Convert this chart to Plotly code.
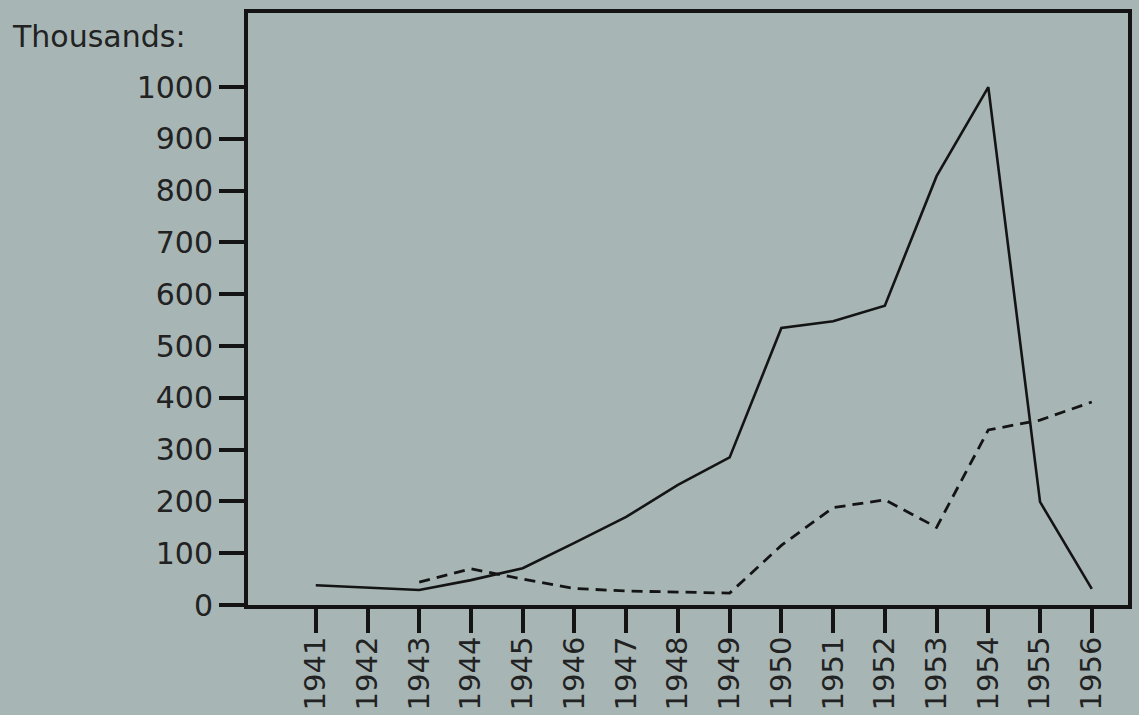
import plotly.graph_objects as go

years = list(range(1941, 1957))
solid_vals = [38, 34, 29, 48, 71, 120, 170, 232, 285, 535, 548, 578, 828, 1000, 199, 31]
dashed_years = list(range(1943, 1957))
dashed_vals = [44, 70, 50, 32, 27, 25, 23, 115, 188, 203, 150, 338, 357, 392]
y_ticks = [0, 100, 200, 300, 400, 500, 600, 700, 800, 900, 1000]
x_tick_labels = [str(y) for y in years]

bg = "#a7b6b5"
ink = "#141414"
txt = "#222222"
font = "DejaVu Sans"

fig = go.Figure()
fig.add_trace(go.Scatter(x=years, y=solid_vals, mode="lines",
                         line=dict(color=ink, width=2.6), showlegend=False))
fig.add_trace(go.Scatter(x=dashed_years, y=dashed_vals, mode="lines",
                         line=dict(color=ink, width=2.8, dash="11px,7px"),
                         showlegend=False))

fig.update_layout(
    width=1139, height=715,
    margin=dict(l=248, r=11, t=13, b=110, autoexpand=False),
    paper_bgcolor=bg, plot_bgcolor=bg,
    font=dict(family=font, size=30, color=txt),
    xaxis=dict(range=[1939.69, 1956.70], tickvals=years, ticktext=x_tick_labels,
               tickangle=-90, ticks="outside", ticklen=24, tickwidth=4,
               tickcolor=ink, showline=True, linewidth=4, linecolor=ink,
               mirror=True, showgrid=False, zeroline=False, automargin=False,
               ticklabelstandoff=-8,
               tickfont=dict(family=font, size=29, color=txt)),
    yaxis=dict(range=[0, 1143], tickvals=y_ticks, ticks="outside", ticklen=25,
               tickwidth=4, tickcolor=ink, showline=True, linewidth=4,
               linecolor=ink, mirror=True, showgrid=False, zeroline=False,
               automargin=False,
               tickfont=dict(family=font, size=30, color=txt)),
    annotations=[dict(text="Thousands:", xref="paper", yref="paper",
                      x=-0.2705, y=0.961, xanchor="left", yanchor="middle",
                      showarrow=False,
                      font=dict(family=font, size=30, color=txt))],
)

fig.write_html("out.html", config={"displayModeBar": False},
               post_script="document.body.style.margin='0';document.body.style.background='" + bg + "';")
